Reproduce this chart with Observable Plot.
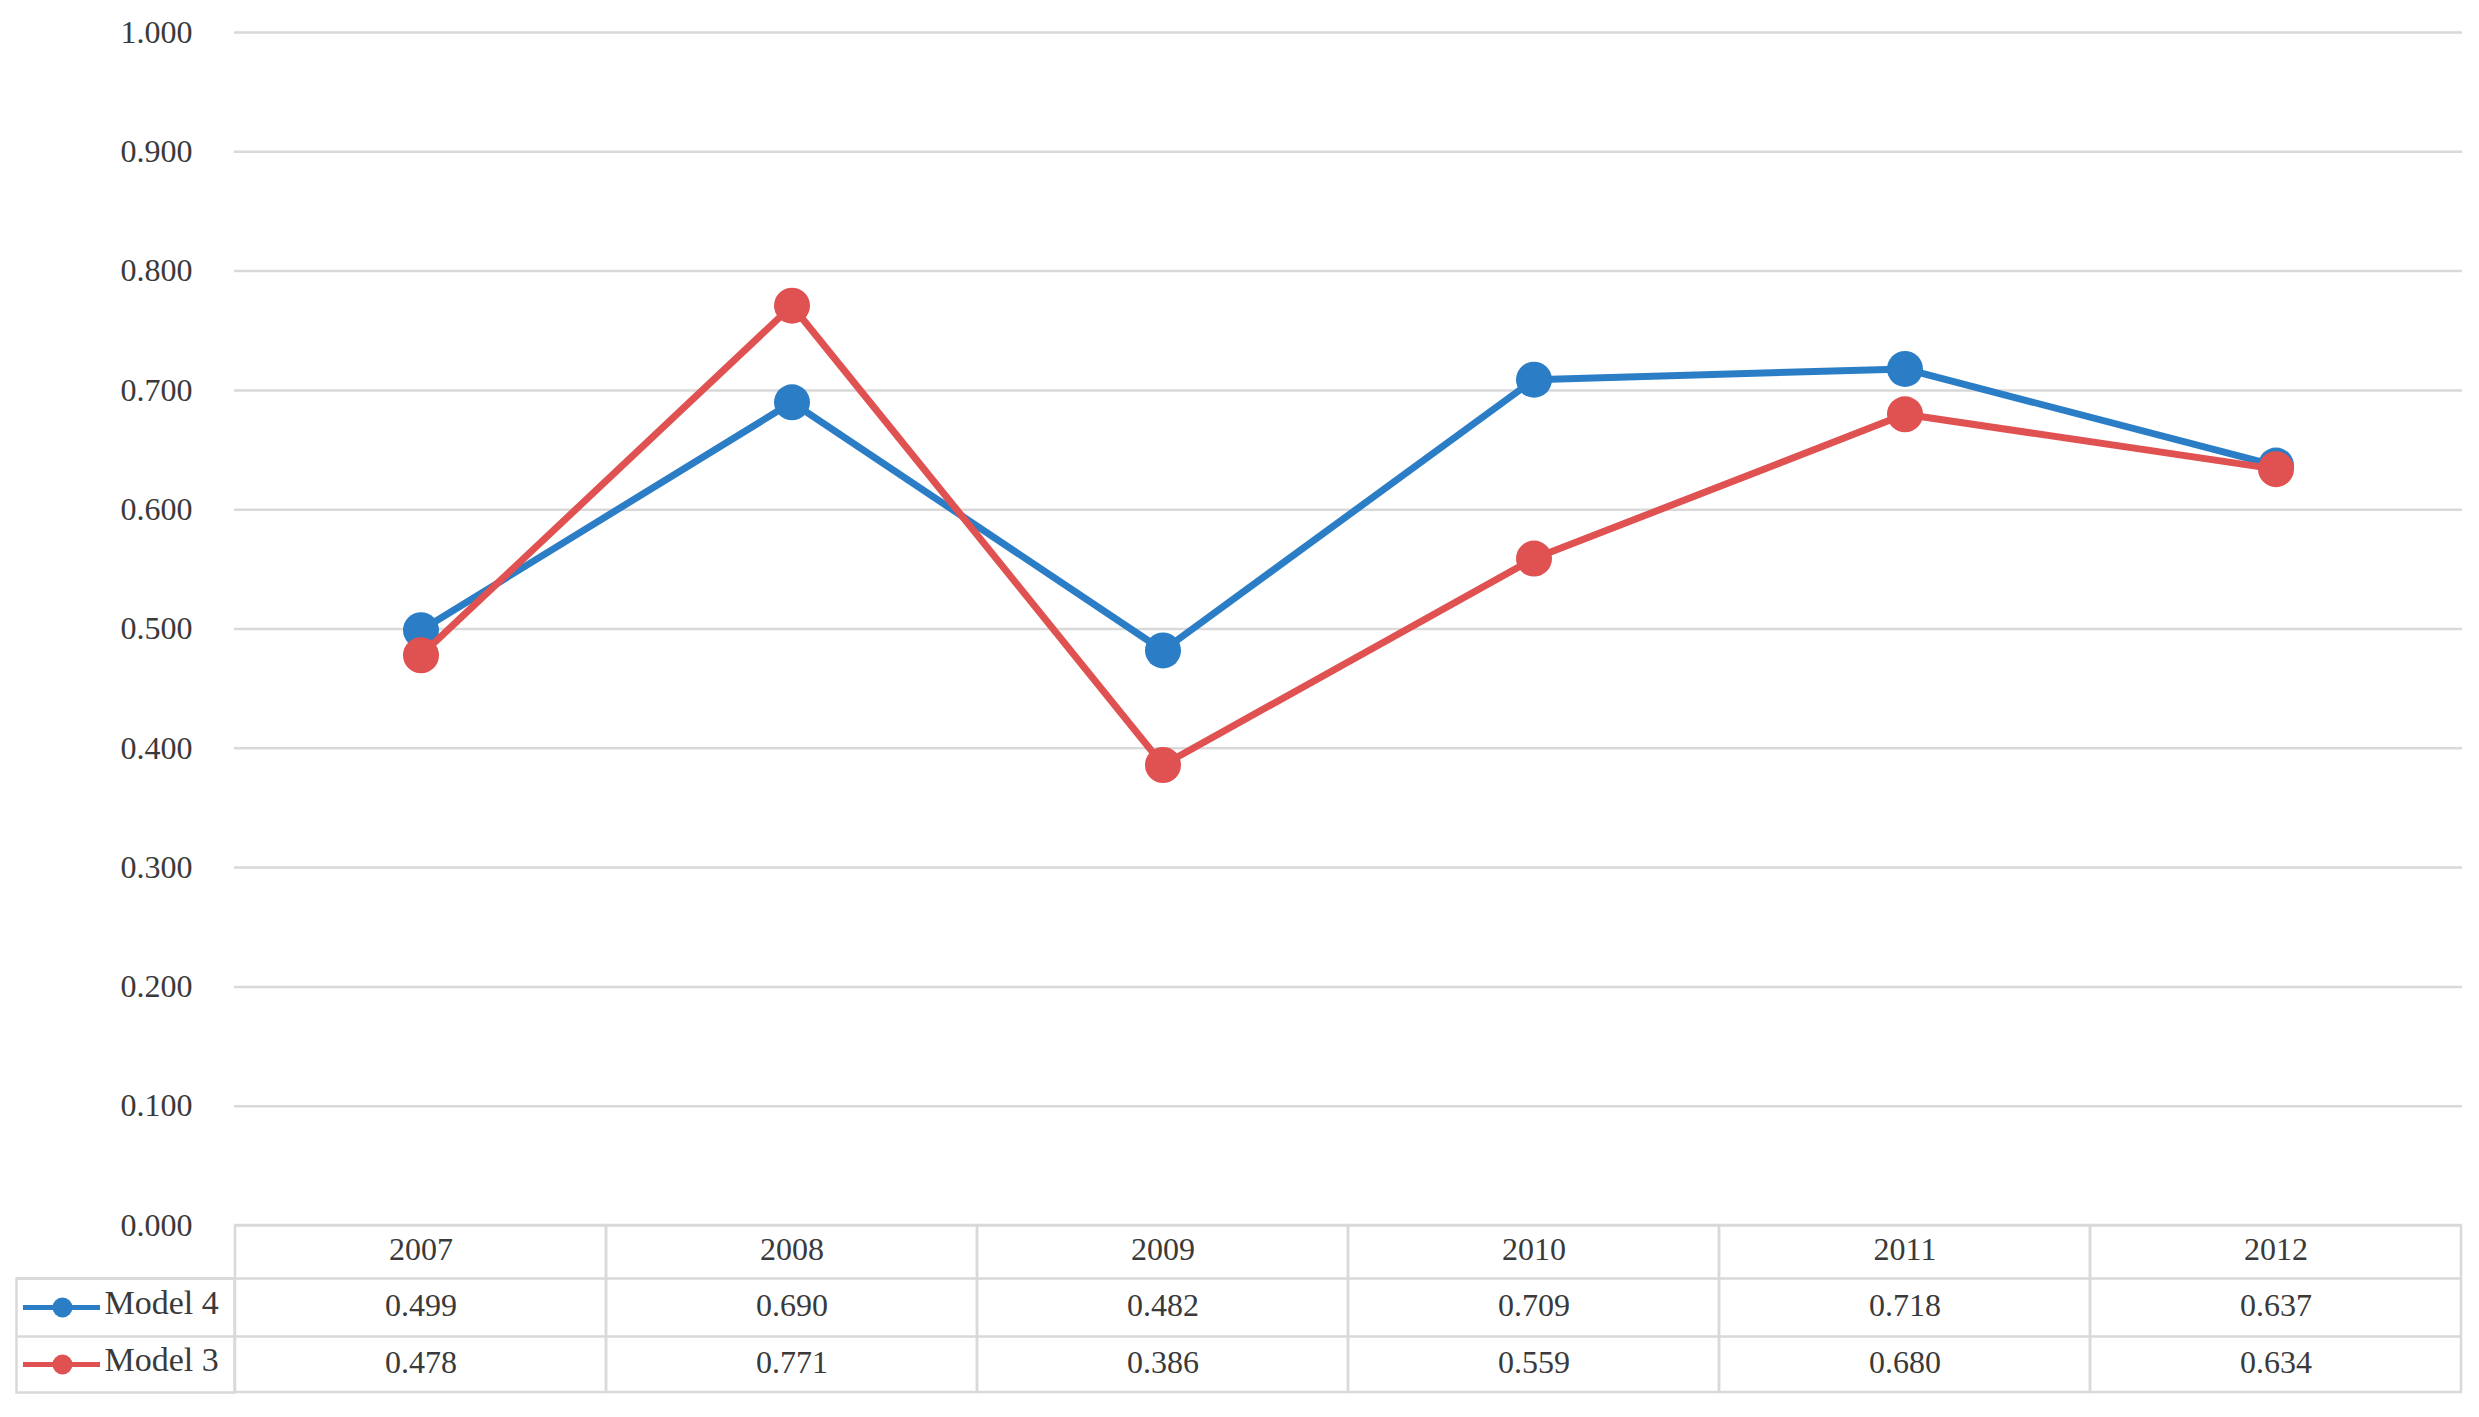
<!DOCTYPE html>
<html><head><meta charset="utf-8">
<script src="https://cdn.jsdelivr.net/npm/d3@7"></script>
<script src="https://cdn.jsdelivr.net/npm/@observablehq/plot@0.6"></script>
<style>html,body{margin:0;padding:0;background:#fff;} svg{display:block;}</style>
</head><body><div id="chart"></div>
<script>
// ---- data ----
const years = ["2007", "2008", "2009", "2010", "2011", "2012"];
const model4 = [0.499, 0.690, 0.482, 0.709, 0.718, 0.637];
const model3 = [0.478, 0.771, 0.386, 0.559, 0.680, 0.634];
const seriesNames = ["Model 4", "Model 3"];
const yTicks = [0, 0.1, 0.2, 0.3, 0.4, 0.5, 0.6, 0.7, 0.8, 0.9, 1.0];

// ---- layout / style ----
const W = 2479, H = 1417;
const mL = 234, mR = 17, mT = 32, mB = 192;
const frameH = H - mT - mB;
const frameW = W - mL - mR;
const hdrH = 53, row1H = 58, row2H = 56;
const legendLeft = 16;
const textShift = 8;
const colors = {"Model 4": "#2b7ec6", "Model 3": "#e05151"};
const gridColor = "#d9d9d9";
const fmt = d3.format(".3f");

const rows4 = years.map((year, i) => ({year, value: model4[i], series: seriesNames[0]}));
const rows3 = years.map((year, i) => ({year, value: model3[i], series: seriesNames[1]}));
const seriesRows = [rows4, rows3];

const marks = [
  Plot.gridY(yTicks, {stroke: gridColor, strokeOpacity: 1, strokeWidth: 2.5}),
  Plot.axisY(yTicks, {tickSize: 0, tickPadding: 42, tickFormat: fmt, label: null, fill: "#3a3a3a"}),
];

// series lines + markers
seriesRows.forEach((rows, s) => {
  const c = colors[seriesNames[s]];
  marks.push(Plot.line(rows, {x: "year", y: "value", stroke: c, strokeWidth: 7}));
  marks.push(Plot.dot(rows, {x: "year", y: "value", r: 18, fill: c, stroke: "none"}));
});

// data table grid
const tableH = hdrH + row1H + row2H;
marks.push(Plot.cell(years, {x: d => d, fill: "none", stroke: gridColor, strokeWidth: 2.5, insetTop: frameH, insetBottom: -tableH}));
marks.push(Plot.frame({stroke: gridColor, strokeWidth: 2.5, insetTop: frameH + hdrH, insetBottom: -tableH, insetLeft: -(mL - legendLeft), insetRight: frameW}));
marks.push(Plot.ruleY([0], {dy: hdrH, insetLeft: -(mL - legendLeft), stroke: gridColor, strokeWidth: 2.5}));
marks.push(Plot.ruleY([0], {dy: hdrH + row1H, insetLeft: -(mL - legendLeft), stroke: gridColor, strokeWidth: 2.5}));

// header years
marks.push(Plot.text(years, {x: d => d, text: d => d, frameAnchor: "bottom", dy: hdrH / 2 + textShift, fill: "#3a3a3a"}));
// values rows
const rowCenters = [hdrH + row1H / 2, hdrH + row1H + row2H / 2];
seriesRows.forEach((rows, s) => {
  const c = colors[seriesNames[s]];
  const dy = rowCenters[s];
  marks.push(Plot.text(rows, {x: "year", text: d => fmt(d.value), frameAnchor: "bottom", dy: dy + textShift, fill: "#3a3a3a"}));
  // legend key
  marks.push(Plot.ruleY([0], {dy, insetLeft: -(mL - 23), insetRight: frameW + (mL - 100), stroke: c, strokeWidth: 5}));
  marks.push(Plot.dot([seriesNames[s]], {frameAnchor: "bottom-left", dx: 62 - mL, dy, r: 10, fill: c}));
  marks.push(Plot.text([seriesNames[s]], {frameAnchor: "bottom-left", dx: 104 - mL, dy: dy + textShift - 2, text: d => d, textAnchor: "start", fill: "#3a3a3a", fontSize: 34}));
});

const chart = Plot.plot({
  width: W, height: H,
  marginLeft: mL, marginRight: mR, marginTop: mT, marginBottom: mB,
  style: {fontFamily: "'Liberation Serif', 'DejaVu Serif', serif", fontSize: "32px", background: "#fff", overflow: "visible"},
  x: {type: "band", domain: years, padding: 0, axis: null},
  y: {domain: [0, 1], axis: null},
  marks
});
document.getElementById("chart").appendChild(chart);
</script>
</body></html>
